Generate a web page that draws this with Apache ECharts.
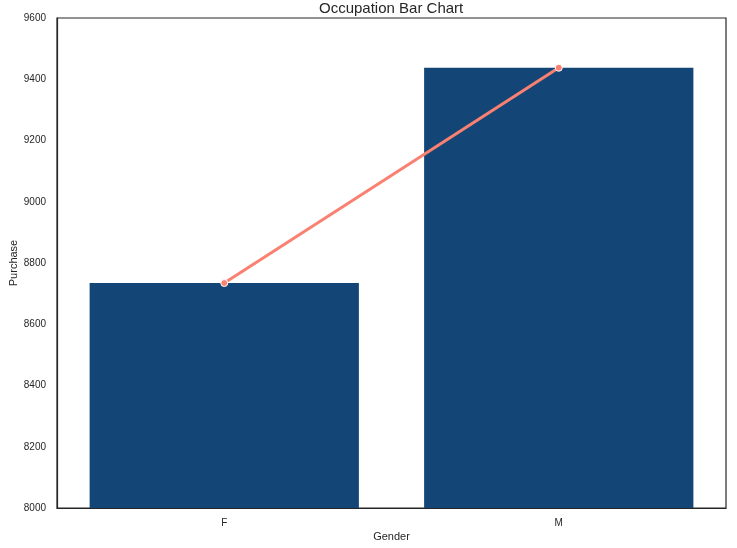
<!DOCTYPE html>
<html><head><meta charset="utf-8">
<script src="https://cdn.jsdelivr.net/npm/echarts@6/dist/echarts.min.js"></script>
<style>html,body{margin:0;padding:0;background:#fff}#c{width:737px;height:548px}</style>
</head><body><div id="c"></div>
<script>
const categories = ['F', 'M'];
const barValues = [8734.57, 9437.53];
const lineValues = [8734.57, 9437.53];
const yTicks = [8000, 8200, 8400, 8600, 8800, 9000, 9200, 9400, 9600];

const chart = echarts.init(document.getElementById('c'), null, {renderer: 'canvas'});
const txt = '#262626';
const font = 'Liberation Sans, Arial, sans-serif';
chart.setOption({
  animation: false,
  backgroundColor: '#fff',
  title: {text: 'Occupation Bar Chart', left: 319, top: -4, padding: [5, 0, 5, 0],
    textStyle: {fontFamily: font, fontSize: 15, fontWeight: 'normal', color: txt}},
  grid: {left: 57, right: 11, top: 18, bottom: 40, containLabel: false, outerBoundsMode: 'none',
    show: true, borderColor: txt, borderWidth: 1.2, backgroundColor: 'transparent'},
  xAxis: {type: 'category', data: categories, name: 'Gender', nameLocation: 'middle', nameGap: 23,
    nameMoveOverlap: false,
    nameTextStyle: {fontFamily: font, fontSize: 11, color: txt},
    axisLine: {show: true, lineStyle: {color: txt, width: 1.2}}, axisTick: {show: false},
    axisLabel: {fontFamily: font, fontSize: 10, color: txt, margin: 10}},
  yAxis: {type: 'value', min: yTicks[0], max: yTicks[yTicks.length-1], interval: 200,
    name: 'Purchase', nameLocation: 'middle', nameGap: 38, nameMoveOverlap: false,
    nameTextStyle: {fontFamily: font, fontSize: 11, color: txt},
    axisLine: {show: true, lineStyle: {color: txt, width: 1.2}}, axisTick: {show: false}, splitLine: {show: false},
    axisLabel: {fontFamily: font, fontSize: 10, color: txt, margin: 11, formatter: v => String(v)}},
  series: [
    {type: 'bar', data: barValues, barCategoryGap: '19.5%', itemStyle: {color: '#134676'}},
    {type: 'line', data: lineValues, symbol: 'circle', symbolSize: 7, z: 5,
      lineStyle: {color: '#fa8072', width: 3}, itemStyle: {color: '#fa8072', borderColor: '#fff', borderWidth: 1}}
  ]
});
</script></body></html>
